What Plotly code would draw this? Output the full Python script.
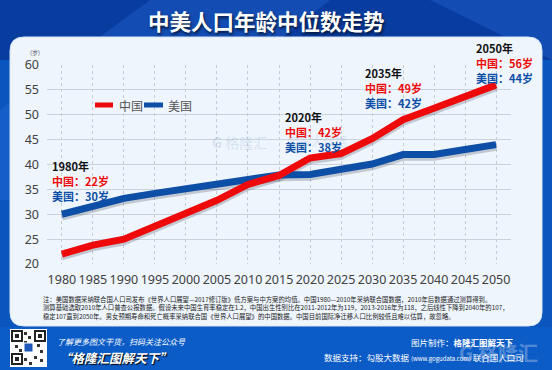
import plotly.graph_objects as go

years = [1980, 1985, 1990, 1995, 2000, 2005, 2010, 2015, 2020, 2025, 2030, 2035, 2040, 2045, 2050]
china = [22, 23.8, 25, 27.5, 30, 32.8, 36, 37.8, 41.3, 42.2, 45.2, 49, 51.3, 53.6, 56]
usa = [30, 31.6, 33.2, 34.2, 35.2, 36.2, 37.2, 37.9, 38, 39.1, 40.1, 42, 42, 43, 44]
series_names = ["中国", "美国"]
callouts = [
    ("1980年", "中国：22岁", "美国：30岁"),
    ("2020年", "中国：42岁", "美国：38岁"),
    ("2035年", "中国：49岁", "美国：42岁"),
    ("2050年", "中国：56岁", "美国：44岁"),
]
title = "中美人口年龄中位数走势"
notes = [
    "注：美国数据采纳联合国人口司发布《世界人口展望—2017修订版》低方案与中方案的均值。中国1980—2010年采纳联合国数据，2010年后数据通过测算得到。",
    "测算基础选取2010年人口普查公报数据。假设未来中国生育率稳定在1.2，中国出生性别比在2011-2012年为119，2013-2016年为118，之后线性下降到2040年的107，",
    "稳定107直到2050年。男女预期寿命和死亡概率采纳联合国《世界人口展望》的中国数据。中国目前国际净迁移人口比例较低且难以估算，故忽略。",
]

W, H = 552, 370
L, R, T, B = 47, 41, 65, 106
PW, PH = W - L - R, H - T - B
RED = "#ee0a0a"
BLUE = "#0d4ea6"
CJK = "Noto Sans CJK SC"


def px(x):
    return (x - L) / PW


def py(y):
    return (H - B - y) / PH


fig = go.Figure()
# soft shadows under the lines
for vals in (usa, china):
    fig.add_trace(go.Scatter(x=years, y=[v - 0.55 for v in vals], mode="lines",
                             line=dict(color="rgba(40,40,60,0.22)", width=7, shape="linear"),
                             hoverinfo="skip", showlegend=False))
fig.add_trace(go.Scatter(x=years, y=usa, mode="lines", name=series_names[1],
                         line=dict(color=BLUE, width=7), showlegend=False))
fig.add_trace(go.Scatter(x=years, y=china, mode="lines", name=series_names[0],
                         line=dict(color=RED, width=7), showlegend=False))

shapes = []
# page background pieces
shapes.append(dict(type="rect", xref="paper", yref="paper", x0=px(0), x1=px(W), y0=py(H), y1=py(0),
                   fillcolor="#0b55bf", line_width=0, layer="below"))
shapes.append(dict(type="rect", xref="paper", yref="paper", x0=px(0), x1=px(W), y0=py(60), y1=py(0),
                   fillcolor="#083c9f", line_width=0, layer="below"))
shapes.append(dict(type="path", xref="paper", yref="paper",
                   path=f"M {px(150)},{py(0)} L {px(330)},{py(0)} L {px(80)},{py(200)} L {px(0)},{py(200)} L {px(0)},{py(110)} Z",
                   fillcolor="rgba(40,110,220,0.35)", line_width=0, layer="below"))
shapes.append(dict(type="path", xref="paper", yref="paper",
                   path=f"M {px(430)},{py(0)} L {px(552)},{py(0)} L {px(552)},{py(60)} Z",
                   fillcolor="rgba(40,110,220,0.35)", line_width=0, layer="below"))
shapes.append(dict(type="rect", xref="paper", yref="paper", x0=px(0), x1=px(W), y0=py(H), y1=py(327),
                   fillcolor="#0b5cc6", line_width=0, layer="below"))
# card with rounded corners
x0, x1, y0, y1, rr = 10, 542, 37, 326, 14
rx, ry = rr / PW, rr / PH
cx0, cx1, cy0, cy1 = px(x0), px(x1), py(y0), py(y1)
card = (f"M {cx0+rx},{cy0} L {cx1-rx},{cy0} Q {cx1},{cy0} {cx1},{cy0-ry} "
        f"L {cx1},{cy1+ry} Q {cx1},{cy1} {cx1-rx},{cy1} L {cx0+rx},{cy1} "
        f"Q {cx0},{cy1} {cx0},{cy1+ry} L {cx0},{cy0-ry} Q {cx0},{cy0} {cx0+rx},{cy0} Z")
shapes.append(dict(type="path", xref="paper", yref="paper", path=card,
                   fillcolor="#eef5fd", line=dict(color="#d8e6f6", width=1), layer="below"))
# QR code block
shapes.append(dict(type="rect", xref="paper", yref="paper", x0=px(10), x1=px(47), y0=py(367), y1=py(329),
                   fillcolor="white", line_width=0, layer="below"))
for qx, qy in [(12, 331), (35, 331), (12, 354)]:
    shapes.append(dict(type="rect", xref="paper", yref="paper", x0=px(qx), x1=px(qx + 10), y0=py(qy + 10), y1=py(qy),
                       fillcolor="white", line=dict(color="#222", width=2), layer="below"))
    shapes.append(dict(type="rect", xref="paper", yref="paper", x0=px(qx + 3), x1=px(qx + 7), y0=py(qy + 7), y1=py(qy + 3),
                       fillcolor="#222", line_width=0, layer="below"))
for qx, qy in [(24, 332), (28, 336), (24, 341), (37, 344), (40, 350), (34, 356), (40, 359), (24, 358), (29, 362), (15, 345), (19, 349)]:
    shapes.append(dict(type="rect", xref="paper", yref="paper", x0=px(qx), x1=px(qx + 3), y0=py(qy + 3), y1=py(qy),
                       fillcolor="#333", line_width=0, layer="below"))
shapes.append(dict(type="rect", xref="paper", yref="paper", x0=px(24), x1=px(33), y0=py(352), y1=py(343),
                   fillcolor="#1f57b8", line=dict(color="white", width=1), layer="below"))
# manual legend samples
shapes.append(dict(type="line", xref="paper", yref="paper", x0=px(95), x1=px(113), y0=py(105), y1=py(105),
                   line=dict(color=RED, width=5)))
shapes.append(dict(type="line", xref="paper", yref="paper", x0=px(144), x1=px(163), y0=py(105), y1=py(105),
                   line=dict(color=BLUE, width=5)))

ann = []
ann.append(dict(text=f"<b>{title}</b>", x=px(266), y=py(20), xref="paper", yref="paper", showarrow=False,
                font=dict(family=CJK, size=21.5, color="white", shadow="1px 2px 3px rgba(0,0,0,0.7)"),
                xanchor="center", yanchor="middle"))
ann.append(dict(text=series_names[0], x=px(117), y=py(105), xref="paper", yref="paper", showarrow=False,
                font=dict(family=CJK, size=12, color="#555"), xanchor="left", yanchor="middle"))
ann.append(dict(text=series_names[1], x=px(166), y=py(105), xref="paper", yref="paper", showarrow=False,
                font=dict(family=CJK, size=12, color="#555"), xanchor="left", yanchor="middle"))
ann.append(dict(text="(岁)", x=px(28), y=py(53), xref="paper", yref="paper", showarrow=False,
                font=dict(family=CJK, size=6, color="#555"), xanchor="left", yanchor="middle"))
pos = [(50, 166), (283, 117), (363, 73), (474, 48)]
for (tx, ty), (a, b_, c) in zip(pos, callouts):
    for k, (txt, col) in enumerate([(a, "#111"), (b_, RED), (c, BLUE)]):
        ann.append(dict(text=f"<b>{txt}</b>", x=px(tx), y=py(ty + k * 15), xref="paper", yref="paper",
                        showarrow=False, font=dict(family=CJK, size=11, color=col),
                        xanchor="left", yanchor="middle"))
# watermarks
ann.append(dict(text="<b>G</b> 格隆汇", x=px(210), y=py(142), xref="paper", yref="paper", showarrow=False,
                font=dict(family=CJK, size=14, color="rgba(140,165,205,0.25)"), xanchor="left", yanchor="middle"))
ann.append(dict(text="勾股大数据", x=px(285), y=py(140), xref="paper", yref="paper", showarrow=False,
                font=dict(family=CJK, size=12, color="rgba(140,165,205,0.22)"), xanchor="left", yanchor="middle"))
for k, line in enumerate(notes):
    ann.append(dict(text=line, x=px(41), y=py(299 + k * 8.7), xref="paper", yref="paper", showarrow=False,
                    font=dict(family=CJK, size=6.35, color="#222"), xanchor="left", yanchor="middle"))
ann.append(dict(text="<i>了解更多图文干货，扫码关注公众号</i>", x=px(55), y=py(341), xref="paper", yref="paper",
                showarrow=False, font=dict(family=CJK, size=8, color="white"), xanchor="left", yanchor="middle"))
ann.append(dict(text="<b><i>“格隆汇图解天下”</i></b>", x=px(57), y=py(357), xref="paper", yref="paper",
                showarrow=False, font=dict(family=CJK, size=12.5, color="white", shadow="1px 1px 1px #000"),
                xanchor="left", yanchor="middle"))
ann.append(dict(text="<b>G 格隆汇</b>", x=px(540), y=py(352), xref="paper", yref="paper",
                showarrow=False, font=dict(family=CJK, size=20, color="rgba(255,255,255,0.3)"),
                xanchor="right", yanchor="middle"))
ann.append(dict(text="图片制作：<b>格隆汇图解天下</b>", x=px(516), y=py(342), xref="paper", yref="paper",
                showarrow=False, font=dict(family=CJK, size=8.5, color="white"), xanchor="right", yanchor="middle"))
ann.append(dict(text="数据支持：勾股大数据 <span style='font-size:6px'>(www.gogudata.com)</span> 联合国人口司",
                x=px(526), y=py(357), xref="paper", yref="paper",
                showarrow=False, font=dict(family=CJK, size=8.5, color="white"), xanchor="right", yanchor="middle"))

fig.update_layout(
    width=W, height=H, margin=dict(l=L, r=R, t=T, b=B, pad=0),
    paper_bgcolor="#0b55bf", plot_bgcolor="rgba(0,0,0,0)",
    shapes=shapes, annotations=ann, showlegend=False,
    xaxis=dict(range=[1977.6, 2052.4], tickmode="array", tickvals=years, ticktext=[str(y) for y in years],
               showgrid=True, gridcolor="#c4ccd8", griddash="dot", gridwidth=1, zeroline=False, showline=False,
               ticks="", ticklabelstandoff=6, tickfont=dict(family="Noto Sans", size=12.5, color="#404040")),
    yaxis=dict(range=[20, 60], dtick=5, showgrid=True, gridcolor="#c9d2de", gridwidth=1, zeroline=False,
               showline=False, ticks="", ticklabelstandoff=7,
               tickfont=dict(family="Noto Sans", size=12.5, color="#404040")),
)
fig.write_html("out.html", config={"displayModeBar": False},
               post_script="document.body.style.margin='0';document.body.style.overflow='hidden';")
